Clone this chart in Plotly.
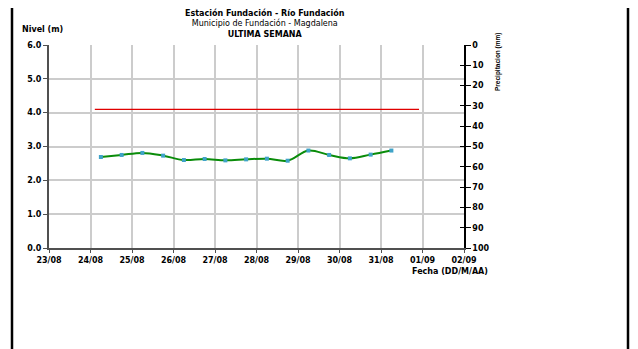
import plotly.graph_objects as go

# water level readings, two per day (06:00 and 18:00)
fechas = [
    "2019-08-24 06:00", "2019-08-24 18:00",
    "2019-08-25 06:00", "2019-08-25 18:00",
    "2019-08-26 06:00", "2019-08-26 18:00",
    "2019-08-27 06:00", "2019-08-27 18:00",
    "2019-08-28 06:00", "2019-08-28 18:00",
    "2019-08-29 06:00", "2019-08-29 18:00",
    "2019-08-30 06:00", "2019-08-30 18:00",
    "2019-08-31 06:00",
]
nivel = [2.69, 2.75, 2.81, 2.73, 2.60, 2.63, 2.59, 2.62, 2.64, 2.58, 2.88, 2.75, 2.65, 2.76, 2.88]

# alert threshold line
alerta_fechas = ["2019-08-24 02:30", "2019-08-31 22:00"]
alerta_nivel = [4.1, 4.1]

# no precipitation recorded this week
precip_fechas = []
precip_mm = []

x_range = ["2019-08-23", "2019-09-02"]
title_lines = [
    "<b>Estación Fundación - Río Fundación</b>",
    "Municipio de Fundación - Magdalena",
    "<b>ULTIMA SEMANA</b>",
]

OFF = 8  # page body margin
W, H = 638 - OFF, 349 - OFF
# plot area in screen pixels
SL, SR, ST, SB = 49, 464, 45, 248
L, R, T, B = SL - OFF, SR - OFF, ST - OFF, SB - OFF


def px(x):
    return (x - SL) / (SR - SL)


def py(y):
    return (SB - y) / (SB - ST)


FONT = "DejaVu Sans, Verdana, sans-serif"
NARROW = "Liberation Sans, Arial, sans-serif"

fig = go.Figure()
fig.add_trace(go.Bar(x=precip_fechas, y=precip_mm, yaxis="y2", marker_color="#4060c0"))
fig.add_trace(go.Scatter(x=precip_fechas, y=precip_mm, yaxis="y3", mode="lines"))
fig.add_trace(
    go.Scatter(
        x=alerta_fechas,
        y=alerta_nivel,
        mode="lines",
        line=dict(color="#e00000", width=1.3),
    )
)
fig.add_trace(
    go.Scatter(
        x=fechas,
        y=nivel,
        mode="lines+markers",
        line=dict(color="#0a8c0a", width=2, shape="spline", smoothing=1.0),
        marker=dict(symbol="square", size=4, color="#3fa3c8"),
    )
)

tickfont = dict(family=FONT, size=8, color="black", weight="bold")

fig.update_layout(
    width=W,
    height=H,
    margin=dict(l=L, r=W - R, t=T, b=H - B),
    paper_bgcolor="white",
    plot_bgcolor="white",
    showlegend=False,
    font=dict(family=FONT, size=8, color="black"),
    xaxis=dict(
        type="date",
        range=x_range,
        dtick=86400000,
        tickformat="%d/%m",
        tickfont=tickfont,
        showgrid=True,
        gridcolor="#cccccc",
        gridwidth=1.5,
        showline=True,
        linecolor="#505050",
        linewidth=2,
        ticks="outside",
        ticklen=3,
        tickcolor="#505050",
        zeroline=False,
    ),
    yaxis=dict(
        range=[0, 6],
        dtick=1,
        tickformat=".1f",
        tickfont=tickfont,
        showgrid=True,
        gridcolor="#cccccc",
        gridwidth=1.5,
        showline=True,
        linecolor="#505050",
        linewidth=2,
        ticks="outside",
        ticklen=4,
        tickcolor="#505050",
        zeroline=False,
    ),
    yaxis2=dict(
        overlaying="y",
        side="right",
        range=[100, 0],
        dtick=10,
        tickfont=tickfont,
        showgrid=False,
        showline=True,
        linecolor="black",
        linewidth=1.5,
        ticks="outside",
        ticklen=5,
        tickcolor="black",
        zeroline=False,
    ),
    yaxis3=dict(
        overlaying="y",
        side="right",
        range=[100, 0],
        dtick=10,
        showticklabels=False,
        showgrid=False,
        showline=False,
        ticks="inside",
        ticklen=4,
        tickcolor="black",
        zeroline=False,
    ),
)

# chart frame
fig.add_shape(
    type="rect",
    xref="paper",
    yref="paper",
    x0=px(12),
    x1=px(628),
    y0=py(400),
    y1=py(6),
    line=dict(color="black", width=2.5),
    fillcolor="rgba(0,0,0,0)",
    layer="above",
)

fig.add_annotation(
    x=px(265), y=py(23.5), xref="paper", yref="paper", text="<br>".join(title_lines),
    showarrow=False, xanchor="center", yanchor="middle", align="center",
    font=dict(family=FONT, size=8, color="black"),
)

fig.add_annotation(
    x=px(20), y=py(29), xref="paper", yref="paper", text="<b>Nivel (m)</b>",
    showarrow=False, xanchor="left", yanchor="middle",
    font=dict(family=FONT, size=8, color="black"),
)
fig.add_annotation(
    x=px(490), y=py(271), xref="paper", yref="paper", text="<b>Fecha (DD/M/AA)</b>",
    showarrow=False, xanchor="right", yanchor="middle",
    font=dict(family=FONT, size=8, color="black"),
)
fig.add_annotation(
    x=px(498), y=py(62), xref="paper", yref="paper", text="<b>Precipitacion (mm)</b>",
    showarrow=False, xanchor="center", yanchor="middle", textangle=-90,
    font=dict(family=NARROW, size=6.5, color="black"),
)

fig.write_html("out.html")
